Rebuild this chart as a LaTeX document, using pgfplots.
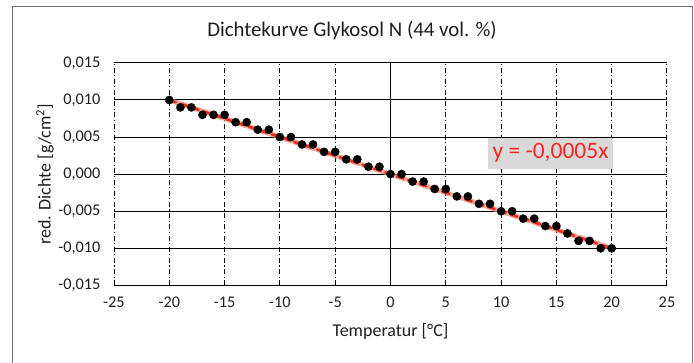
\documentclass[border=0pt]{standalone}
\usepackage{pgfplots}
\pgfplotsset{compat=1.18}
\usepackage{fontspec}
\setmainfont{Carlito}
\definecolor{txt}{RGB}{30,30,30}
\definecolor{frame}{RGB}{110,110,110}
\definecolor{boxgray}{RGB}{217,217,217}
\definecolor{trendred}{RGB}{225,35,25}
\definecolor{trendhalo}{RGB}{245,130,100}
\definecolor{eqred}{RGB}{255,35,35}
\begin{document}
\begin{tikzpicture}
\useasboundingbox (0pt,0pt) rectangle (694pt,363pt);
\fill[white] (0pt,0pt) rectangle (694pt,363pt);
\draw[frame, line width=1pt] (12pt,-10pt) rectangle (692pt,356pt);
\node[font=\fontsize{20.8}{24}\selectfont, text=txt] at (352pt,332pt) {Dichtekurve Glykosol N (44 vol. \%)};
\begin{axis}[
  at={(114pt,77.6pt)}, anchor=south west,
  scale only axis, width=553pt, height=222.5pt,
  xmin=-25, xmax=25, ymin=-0.015, ymax=0.015,
  xtick={-25,-20,...,25},
  ytick={-0.015,-0.01,-0.005,0,0.005,0.01,0.015},
  scaled y ticks=false,
  /pgf/number format/assume math mode=true,
  yticklabel style={/pgf/number format/fixed,/pgf/number format/fixed zerofill,/pgf/number format/precision=3,/pgf/number format/use comma, xshift=-10pt},
  axis line style={draw=none},
  major tick length=0pt,
  tick label style={font=\fontsize{16.3}{19}\selectfont, text=txt},
  xticklabel style={yshift=-8pt},
  xmajorgrids, ymajorgrids,
  x grid style={black, line width=1pt, dash pattern=on 5pt off 2.5pt on 1.2pt off 2.5pt},
  y grid style={black, line width=1pt},
  xlabel={Temperatur [°C]},
  ylabel={red. Dichte [g/cm\textsuperscript{2}]},
  label style={font=\fontsize{18}{21}\selectfont, text=txt},
  xlabel style={at={(axis description cs:0.5,-0.207)}, anchor=center},
  ylabel style={at={(axis description cs:-0.1248,0.5)}, anchor=center},
  clip=false,
]
\draw[black, line width=1.1pt] (axis cs:0,-0.015) -- (axis cs:0,0.015);
\draw[black, line width=1.6pt] (axis cs:-25,-0.015) -- (axis cs:25,-0.015);
\addplot[trendhalo, opacity=0.7, line width=5pt, dash pattern=on 9pt off 3pt, line cap=round, forget plot] coordinates {(-20,0.010) (20,-0.010)};
\addplot[only marks, mark=*, mark size=4.1pt, black] coordinates {
(-20,0.010) (-19,0.009) (-18,0.009) (-17,0.008) (-16,0.008) (-15,0.008)
(-14,0.007) (-13,0.007) (-12,0.006) (-11,0.006) (-10,0.005) (-9,0.005)
(-8,0.004) (-7,0.004) (-6,0.003) (-5,0.003) (-4,0.002) (-3,0.002)
(-2,0.001) (-1,0.001) (0,0.000) (1,0.000) (2,-0.001) (3,-0.001)
(4,-0.002) (5,-0.002) (6,-0.003) (7,-0.003) (8,-0.004) (9,-0.004)
(10,-0.005) (11,-0.005) (12,-0.006) (13,-0.006) (14,-0.007) (15,-0.007)
(16,-0.008) (17,-0.009) (18,-0.009) (19,-0.010) (20,-0.010)
};
\addplot[trendred, opacity=0.9, line width=2.6pt, dash pattern=on 7pt off 5pt, line cap=round, forget plot] coordinates {(-20,0.010) (20,-0.010)};
\node[fill=boxgray, text=eqred, font=\fontsize{23.5}{27}\selectfont, minimum width=125pt, minimum height=31pt, inner sep=0pt] at (axis cs:14.47,0.00284) {y = -0,0005x};
\end{axis}
\end{tikzpicture}
\end{document}
